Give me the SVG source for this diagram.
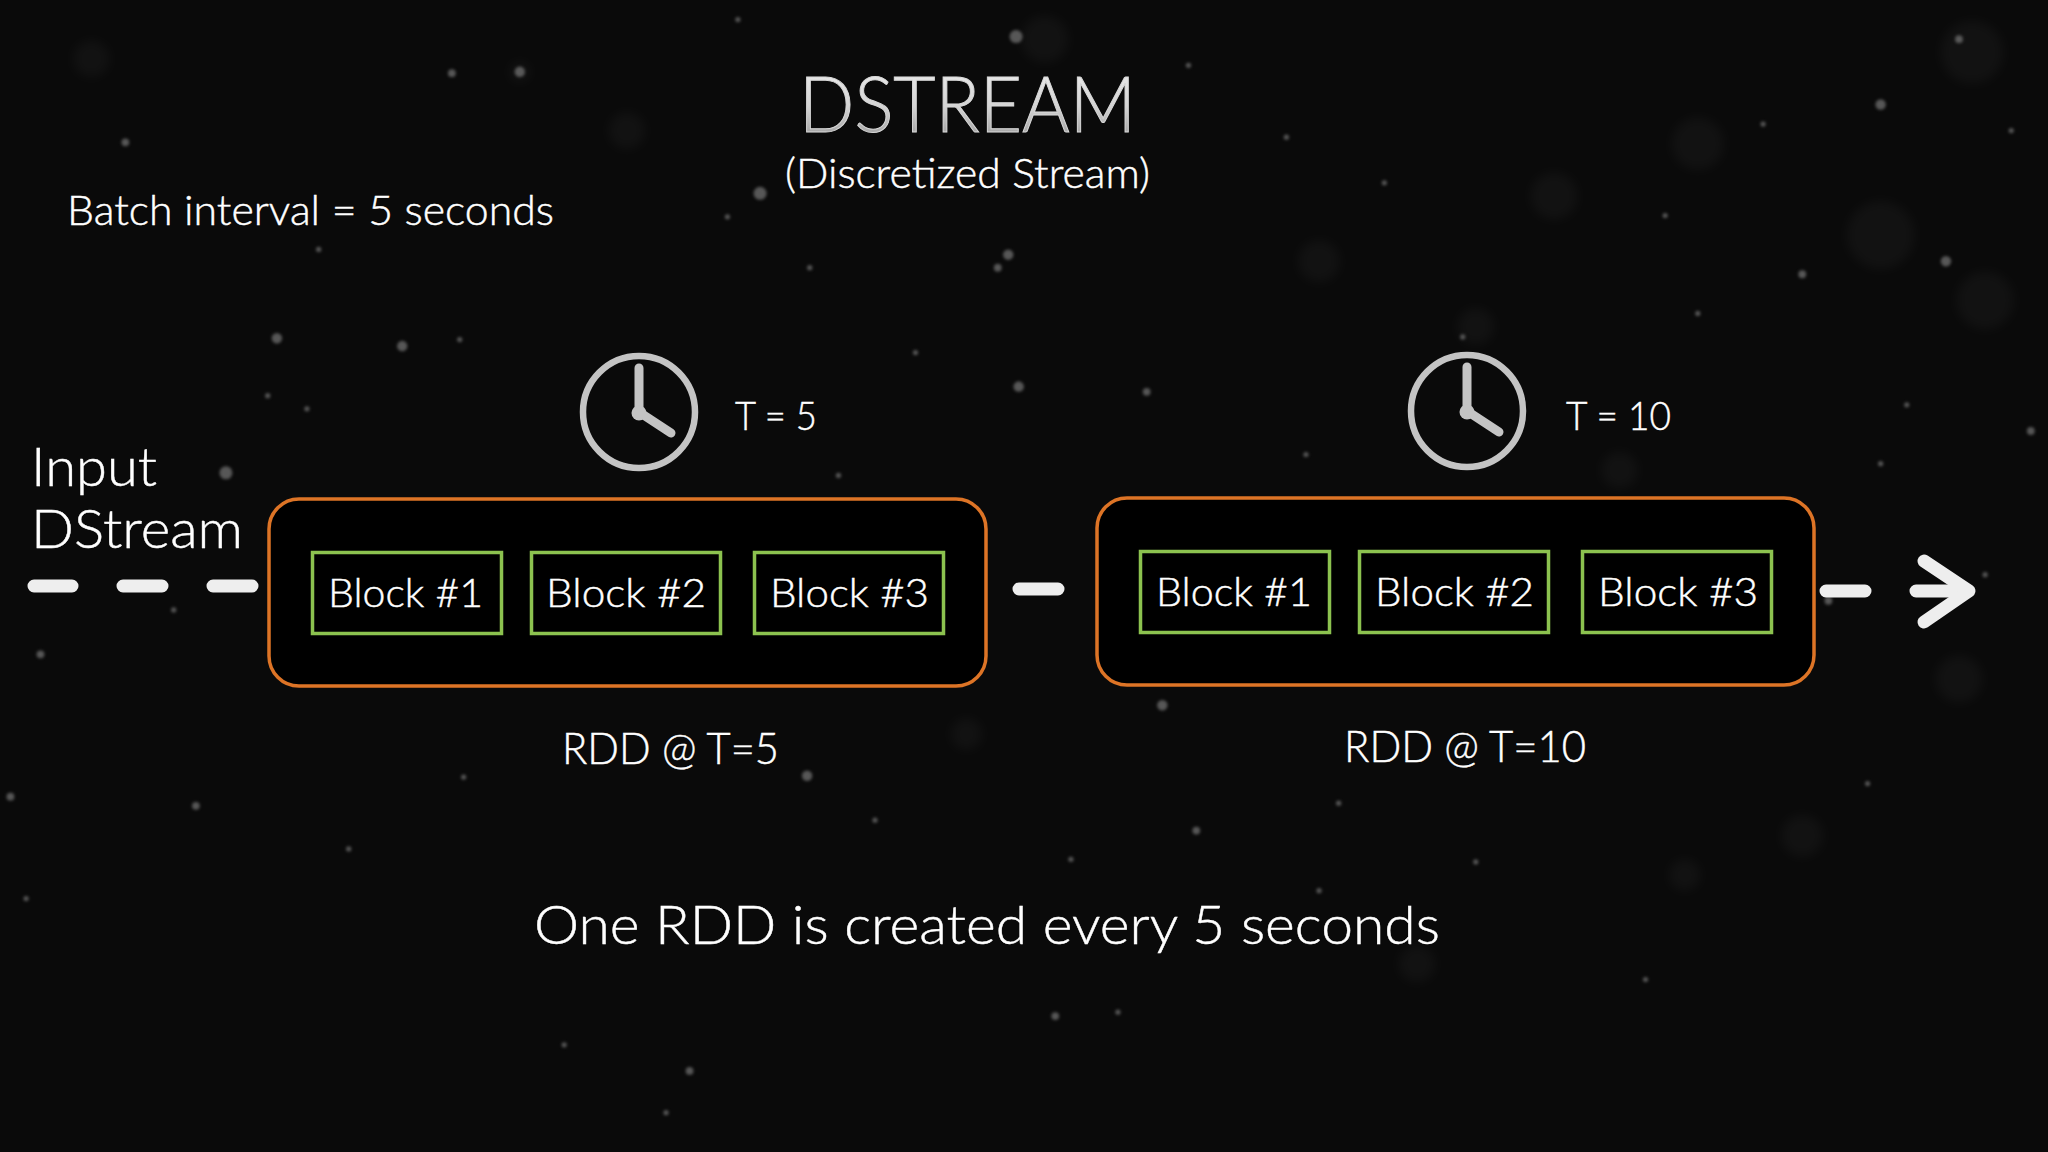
<svg xmlns="http://www.w3.org/2000/svg" width="2048" height="1152" viewBox="0 0 2048 1152">
<style>
text{font-family:"Lato","Open Sans","Liberation Sans",sans-serif;font-weight:300;fill:#fff;stroke:#fff;stroke-width:0.45}
.rdd{fill:#000;stroke:#dd7426;stroke-width:3.5}
.blk{fill:#000;stroke:#8cc24f;stroke-width:3.5}
.dash{stroke:#eeeeee;stroke-width:13;stroke-linecap:round;fill:none}
.hand{stroke:#c4c4c4;stroke-width:9;stroke-linecap:round;stroke-linejoin:round;fill:none}
.hub{fill:#c4c4c4}
.face{fill:none;stroke:#c4c4c4;stroke-width:6.500}
.b{font-size:40px}.s{fill:#8a8a8a}
</style>
<defs>
<linearGradient id="tg" x1="0" y1="0" x2="0" y2="1"><stop offset="0" stop-color="#f2f2f2"/><stop offset="0.55" stop-color="#d4d4d4"/><stop offset="1" stop-color="#8e8e8e"/></linearGradient>
<filter id="bl" x="-50%" y="-50%" width="200%" height="200%"><feGaussianBlur stdDeviation="1.4"/></filter>
<filter id="bl2" x="-50%" y="-50%" width="200%" height="200%"><feGaussianBlur stdDeviation="4"/></filter>
</defs>
<rect width="2048" height="1152" fill="#0a0a0a"/>
<g id="specks-large" transform="scale(1.306)" filter="url(#bl2)" fill="#fff" opacity="0.03">
<circle cx="70" cy="45" r="14"/><circle cx="398" cy="55" r="8"/><circle cx="480" cy="100" r="14"/><circle cx="1190" cy="150" r="18"/><circle cx="1300" cy="110" r="20"/><circle cx="1510" cy="40" r="24"/><circle cx="1440" cy="180" r="26"/><circle cx="1520" cy="230" r="22"/><circle cx="1240" cy="360" r="14"/><circle cx="1500" cy="520" r="18"/><circle cx="740" cy="562" r="12"/><circle cx="1085" cy="738" r="14"/><circle cx="1010" cy="200" r="16"/><circle cx="1380" cy="640" r="16"/><circle cx="1290" cy="670" r="12"/><circle cx="800" cy="30" r="18"/><circle cx="1130" cy="250" r="14"/>
</g>
<g id="specks" transform="scale(1.306)" filter="url(#bl)" class="s" opacity="0.6">
<circle cx="96" cy="109" r="3"/><circle cx="346" cy="56" r="3"/><circle cx="398" cy="55" r="4"/><circle cx="778" cy="28" r="5"/><circle cx="565" cy="15" r="2"/><circle cx="582" cy="148" r="5"/><circle cx="557" cy="166" r="2"/><circle cx="244" cy="191" r="2"/><circle cx="212" cy="259" r="4"/><circle cx="308" cy="265" r="4"/><circle cx="352" cy="260" r="2"/><circle cx="205" cy="303" r="2"/><circle cx="235" cy="313" r="2"/><circle cx="173" cy="362" r="5"/><circle cx="133" cy="467" r="2"/><circle cx="31" cy="501" r="3"/><circle cx="780" cy="296" r="4"/><circle cx="878" cy="300" r="3"/><circle cx="642" cy="364" r="2"/><circle cx="701" cy="270" r="2"/><circle cx="620" cy="205" r="2"/><circle cx="772" cy="195" r="4"/><circle cx="764" cy="205" r="3"/><circle cx="8" cy="610" r="3"/><circle cx="150" cy="617" r="3"/><circle cx="267" cy="650" r="2"/><circle cx="20" cy="688" r="2"/><circle cx="355" cy="595" r="2"/><circle cx="618" cy="594" r="4"/><circle cx="670" cy="628" r="2"/><circle cx="890" cy="540" r="4"/><circle cx="916" cy="636" r="3"/><circle cx="808" cy="778" r="3"/><circle cx="856" cy="775" r="2"/><circle cx="528" cy="820" r="3"/><circle cx="432" cy="800" r="2"/><circle cx="510" cy="852" r="2"/><circle cx="1025" cy="615" r="2"/><circle cx="1010" cy="682" r="2"/><circle cx="820" cy="658" r="2"/><circle cx="1440" cy="80" r="4"/><circle cx="1490" cy="200" r="4"/><circle cx="1380" cy="210" r="3"/><circle cx="1300" cy="240" r="2"/><circle cx="1440" cy="355" r="2"/><circle cx="1540" cy="100" r="2"/><circle cx="1460" cy="310" r="2"/><circle cx="1350" cy="95" r="2"/><circle cx="1275" cy="165" r="2"/><circle cx="1000" cy="348" r="2"/><circle cx="1120" cy="258" r="2"/><circle cx="1400" cy="460" r="3"/><circle cx="1520" cy="440" r="2"/><circle cx="1430" cy="600" r="2"/><circle cx="1260" cy="750" r="2"/><circle cx="1130" cy="660" r="2"/><circle cx="910" cy="50" r="2"/><circle cx="985" cy="105" r="2"/><circle cx="1060" cy="140" r="2"/><circle cx="1555" cy="330" r="3"/><circle cx="1500" cy="30" r="3"/>
</g>
<text x="799" y="132" font-size="77" style="fill:url(#tg);stroke:#d8d8d8;stroke-width:1" textLength="337" lengthAdjust="spacingAndGlyphs">DSTREAM</text>
<text x="785" y="188" font-size="41" textLength="365" lengthAdjust="spacingAndGlyphs">(Discretized Stream)</text>
<text x="67" y="225" font-size="41" textLength="487" lengthAdjust="spacingAndGlyphs">Batch interval = 5 seconds</text>
<g id="connectors">
<path class="dash" d="M34 586H72M123 586H162M213 586H252M1019 589H1058M1826 591H1865M1916 591H1968"/>
<path class="dash" stroke-width="14" stroke-linejoin="round" d="M1924 561L1969 591L1924 622"/>
</g>
<text x="31" y="486" font-size="54" textLength="126" lengthAdjust="spacingAndGlyphs">Input</text>
<text x="31" y="548" font-size="54" textLength="212" lengthAdjust="spacingAndGlyphs">DStream</text>
<g id="clock-1"><circle class="face" cx="639" cy="412" r="56"/><path class="hand" d="M639 368V412L671 433"/><circle class="hub" cx="639" cy="413" r="7.500"/></g>
<text id="t-5" x="735" y="429.500" class="b" textLength="82" lengthAdjust="spacingAndGlyphs">T = 5</text>
<g id="clock-2"><circle class="face" cx="1467" cy="411" r="56"/><path class="hand" d="M1467 367V411L1499 432"/><circle class="hub" cx="1467" cy="412" r="7.500"/></g>
<text id="t-10" x="1566" y="429.500" class="b" textLength="105" lengthAdjust="spacingAndGlyphs">T = 10</text>
<g id="rdd-1">
<rect class="rdd" x="269" y="499" width="717" height="187" rx="30"/>
<rect class="blk" x="312.5" y="552.500" width="189" height="81"/><text x="328" y="607" class="b" textLength="155" lengthAdjust="spacingAndGlyphs">Block #1</text>
<rect class="blk" x="531.500" y="552.500" width="189" height="81"/><text x="546" y="607" class="b" textLength="160" lengthAdjust="spacingAndGlyphs">Block #2</text>
<rect class="blk" x="754.500" y="552.500" width="189" height="81"/><text x="770" y="607" class="b" textLength="159" lengthAdjust="spacingAndGlyphs">Block #3</text>
</g>
<g id="rdd-2">
<rect class="rdd" x="1097" y="498" width="717" height="187" rx="30"/>
<rect class="blk" x="1140.500" y="551.500" width="189" height="81"/><text x="1156" y="606" class="b" textLength="156" lengthAdjust="spacingAndGlyphs">Block #1</text>
<rect class="blk" x="1359.500" y="551.500" width="189" height="81"/><text x="1375" y="606" class="b" textLength="159" lengthAdjust="spacingAndGlyphs">Block #2</text>
<rect class="blk" x="1582.500" y="551.500" width="189" height="81"/><text x="1598" y="606" class="b" textLength="160" lengthAdjust="spacingAndGlyphs">Block #3</text>
</g>
<text x="562" y="764" font-size="43" textLength="217" lengthAdjust="spacingAndGlyphs">RDD @ T=5</text>
<text x="1344" y="762" font-size="43" textLength="242" lengthAdjust="spacingAndGlyphs">RDD @ T=10</text>
<text x="534" y="944" font-size="53" textLength="906" lengthAdjust="spacingAndGlyphs">One RDD is created every 5 seconds</text>
</svg>
